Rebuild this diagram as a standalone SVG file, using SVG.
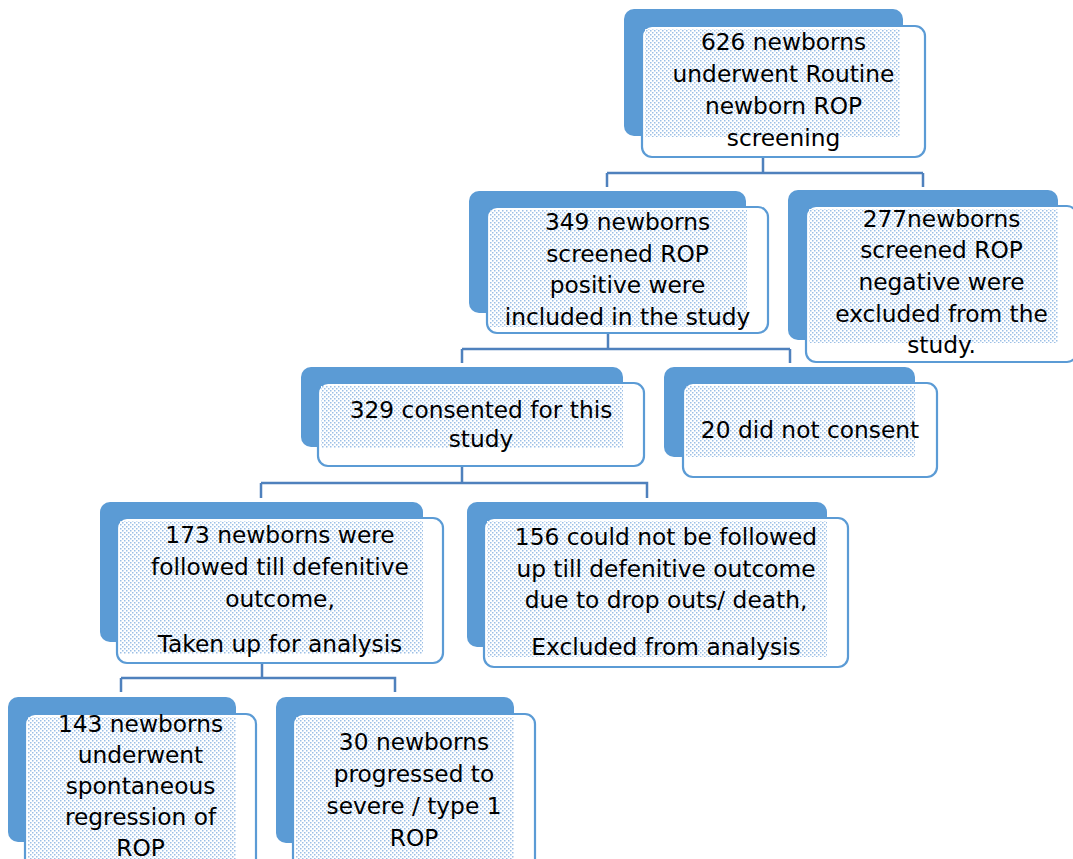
<svg xmlns="http://www.w3.org/2000/svg" width="1073" height="859" viewBox="0 0 1073 859">
<defs>
<pattern id="dots" width="4" height="4" patternUnits="userSpaceOnUse">
<rect width="4" height="4" fill="#ffffff"/>
<rect x="0" y="0" width="1.5" height="1.5" fill="#9cbfe6"/>
<rect x="2" y="2" width="1.5" height="1.5" fill="#9cbfe6"/>
</pattern>
<style>
.back{fill:#5b9bd5;}
.front{fill:#ffffff;stroke:#5b9bd5;stroke-width:2.2;}
.pat{fill:url(#dots);}
.t{font-family:"DejaVu Sans","Liberation Sans",sans-serif;font-size:23.3px;fill:#000000;text-anchor:middle;}
.conn{fill:none;stroke:#4f81bd;stroke-width:2.5;}
</style>
</defs>
<rect width="1073" height="859" fill="#ffffff"/>
<g id="connectors">
<path class="conn" d="M763,157 V173 M607,173 H923 M607,173 V187 M923,173 V187"/>
<path class="conn" d="M608,333 V349 M462,349 H790 M462,349 V363 M790,349 V363"/>
<path class="conn" d="M462,467 V483 M261,483 H647 V498 M261,483 V498"/>
<path class="conn" d="M262,663 V678 M121,678 H395 V692 M121,678 V692"/>
</g>
<g id="n1">
<rect class="back" x="624" y="9" width="279" height="127" rx="10"/>
<rect class="front" x="642" y="26" width="283" height="131" rx="10"/>
<rect class="pat" x="645" y="29" width="255" height="108"/>
<text class="t" x="783.5" y="50">626 newborns</text>
<text class="t" x="783.5" y="82">underwent Routine</text>
<text class="t" x="783.5" y="114">newborn ROP</text>
<text class="t" x="783.5" y="146">screening</text>
</g>
<g id="n2">
<rect class="back" x="469" y="191" width="277" height="122" rx="10"/>
<rect class="front" x="487" y="207" width="281" height="126" rx="10"/>
<rect class="pat" x="490" y="210" width="257" height="117"/>
<text class="t" x="627.5" y="230">349 newborns</text>
<text class="t" x="627.5" y="262">screened ROP</text>
<text class="t" x="627.5" y="293">positive were</text>
<text class="t" x="627.5" y="325">included in the study</text>
</g>
<g id="n3">
<rect class="back" x="788" y="190" width="270" height="150" rx="10"/>
<rect class="front" x="806" y="206" width="271" height="156" rx="10"/>
<rect class="pat" x="809" y="209" width="249" height="134"/>
<text class="t" x="941.5" y="227">277newborns</text>
<text class="t" x="941.5" y="258">screened ROP</text>
<text class="t" x="941.5" y="290">negative were</text>
<text class="t" x="941.5" y="322">excluded from the</text>
<text class="t" x="941.5" y="353">study.</text>
</g>
<g id="n4">
<rect class="back" x="301" y="367" width="322" height="80" rx="10"/>
<rect class="front" x="318" y="383" width="326" height="83" rx="10"/>
<rect class="pat" x="321" y="386" width="302" height="62"/>
<text class="t" x="481" y="418">329 consented for this</text>
<text class="t" x="481" y="447">study</text>
</g>
<g id="n5">
<rect class="back" x="664" y="367" width="251" height="90" rx="10"/>
<rect class="front" x="683" y="383" width="254" height="94" rx="10"/>
<rect class="pat" x="686" y="386" width="229" height="71"/>
<text class="t" x="810" y="438">20 did not consent</text>
</g>
<g id="n6">
<rect class="back" x="100" y="502" width="323" height="140" rx="10"/>
<rect class="front" x="117" y="518" width="326" height="145" rx="10"/>
<rect class="pat" x="120" y="521" width="303" height="133"/>
<text class="t" x="280" y="543">173 newborns were</text>
<text class="t" x="280" y="575">followed till defenitive</text>
<text class="t" x="280" y="607">outcome,</text>
<text class="t" x="280" y="652">Taken up for analysis</text>
</g>
<g id="n7">
<rect class="back" x="467" y="502" width="360" height="145" rx="10"/>
<rect class="front" x="484" y="518" width="364" height="149" rx="10"/>
<rect class="pat" x="487" y="521" width="340" height="136"/>
<text class="t" x="666" y="545">156 could not be followed</text>
<text class="t" x="666" y="577">up till defenitive outcome</text>
<text class="t" x="666" y="608">due to drop outs/ death,</text>
<text class="t" x="666" y="655">Excluded from analysis</text>
</g>
<g id="n8">
<rect class="back" x="8" y="697" width="228" height="145" rx="10"/>
<rect class="front" x="25" y="714" width="231" height="160" rx="10"/>
<rect class="pat" x="28" y="717" width="208" height="142"/>
<text class="t" x="140.5" y="732">143 newborns</text>
<text class="t" x="140.5" y="763">underwent</text>
<text class="t" x="140.5" y="794">spontaneous</text>
<text class="t" x="140.5" y="825">regression of</text>
<text class="t" x="140.5" y="856">ROP</text>
</g>
<g id="n9">
<rect class="back" x="276" y="697" width="238" height="146" rx="10"/>
<rect class="front" x="293" y="714" width="242" height="160" rx="10"/>
<rect class="pat" x="296" y="717" width="218" height="142"/>
<text class="t" x="414" y="750">30 newborns</text>
<text class="t" x="414" y="782">progressed to</text>
<text class="t" x="414" y="814">severe / type 1</text>
<text class="t" x="414" y="846">ROP</text>
</g>
</svg>
